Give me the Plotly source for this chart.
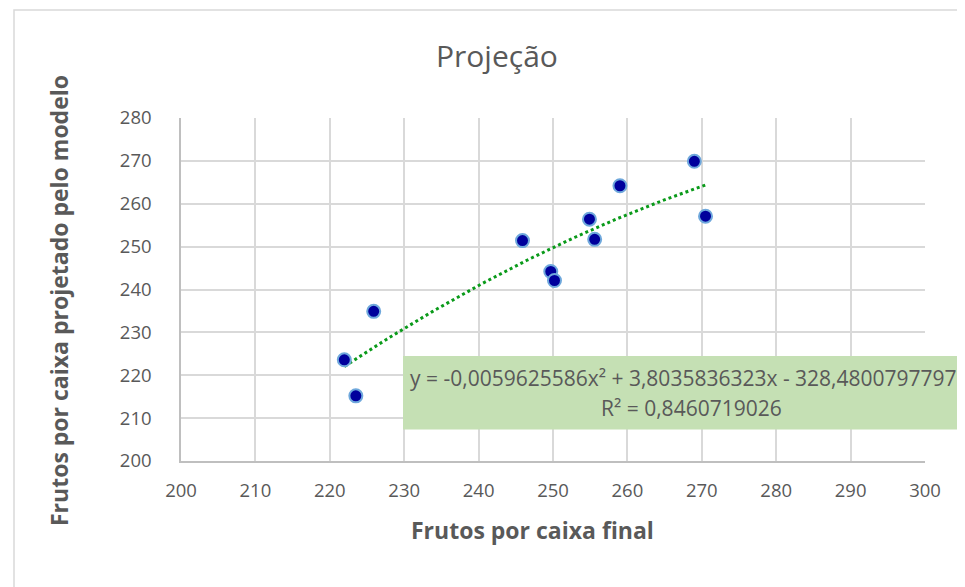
import numpy as np
import plotly.graph_objects as go

# Data
frutos_final = [221.95, 223.5, 225.9, 245.9, 249.7, 250.2, 254.9, 255.6, 259.0, 269.0, 270.5]
frutos_projetado = [223.6, 215.2, 234.9, 251.4, 244.2, 242.1, 256.4, 251.7, 264.2, 269.9, 257.1]

x_ticks = [200, 210, 220, 230, 240, 250, 260, 270, 280, 290, 300]
y_ticks = [200, 210, 220, 230, 240, 250, 260, 270, 280]

title_text = "Projeção"
x_title = "Frutos por caixa final"
y_title = "Frutos por caixa projetado pelo modelo"
eq_text = "y = -0,0059625586x² + 3,8035836323x - 328,4800797797"
r2_text = "R² = 0,8460719026"

# Polynomial (order 2) trendline fitted on the data
coef = np.polyfit(frutos_final, frutos_projetado, 2)
tx = np.linspace(min(frutos_final), max(frutos_final), 120)
ty = np.polyval(coef, tx)

FONT = "Open Sans, Roboto, sans-serif"
GRAY = "#595959"
GRID = "#D9D9D9"

fig = go.Figure()
fig.add_trace(go.Scatter(
    x=tx, y=ty, mode="lines",
    line=dict(color="#0A9A1A", width=3, dash="dot"),
    hoverinfo="skip", showlegend=False))
fig.add_trace(go.Scatter(
    x=frutos_final, y=frutos_projetado, mode="markers",
    marker=dict(size=13, color="#00009C", line=dict(color="#6FA8DC", width=2)),
    showlegend=False))

# page geometry (px); the page body adds an 8px offset
OFF = 8
W, H = 965, 587
L, R, T, B = 181, 925, 118, 461
pw, ph = R - L, B - T

def px(xp):
    return (xp - L) / pw

def py(yp):
    return (B - yp) / ph

fig.update_layout(
    width=W - OFF, height=H - OFF,
    margin=dict(l=L - OFF, r=W - R, t=T - OFF, b=H - B, pad=0),
    paper_bgcolor="white", plot_bgcolor="white",
    font=dict(family=FONT, color=GRAY),
    xaxis=dict(range=[200, 300], tickvals=x_ticks, showgrid=True, gridcolor=GRID,
               gridwidth=1.5, zeroline=False, showline=True, linecolor="#BFBFBF",
               linewidth=1.5, ticks="", tickfont=dict(size=18.5, color=GRAY),
               ticklabelstandoff=12),
    yaxis=dict(range=[200, 280], tickvals=y_ticks, showgrid=True, gridcolor=GRID,
               gridwidth=1.5, zeroline=False, showline=True, linecolor="#BFBFBF",
               linewidth=1.5, ticks="", tickfont=dict(size=18.5, color=GRAY),
               ticklabelstandoff=24),
    shapes=[
        dict(type="rect", xref="paper", yref="paper",
             x0=px(14), x1=px(1000), y0=py(620), y1=py(10),
             line=dict(color=GRID, width=1.5), fillcolor="rgba(0,0,0,0)",
             layer="below"),
        dict(type="rect", xref="paper", yref="paper",
             x0=px(403), x1=px(1000), y0=py(429.5), y1=py(356),
             line=dict(width=0), fillcolor="#C5E0B4", layer="above"),
    ],
    annotations=[
        dict(text=title_text, xref="paper", yref="paper", x=px(497), y=py(56),
             xanchor="center", yanchor="middle", showarrow=False,
             font=dict(family=FONT, size=30, color=GRAY)),
        dict(text="<b>" + x_title + "</b>", xref="paper", yref="paper",
             x=px(532), y=py(530), xanchor="center", yanchor="middle",
             showarrow=False, font=dict(family=FONT, size=23, color=GRAY)),
        dict(text="<b>" + y_title + "</b>", xref="paper", yref="paper",
             x=px(59), y=py(301), xanchor="center", yanchor="middle",
             textangle=-90, showarrow=False,
             font=dict(family=FONT, size=23, color=GRAY)),
        dict(text=eq_text, xref="paper", yref="paper", x=px(408), y=py(378),
             xanchor="left", yanchor="middle", showarrow=False,
             font=dict(family=FONT, size=21, color=GRAY)),
        dict(text=r2_text, xref="paper", yref="paper", x=px(691), y=py(408),
             xanchor="center", yanchor="middle", showarrow=False,
             font=dict(family=FONT, size=21, color=GRAY)),
    ],
)

fig.write_html("out.html")
